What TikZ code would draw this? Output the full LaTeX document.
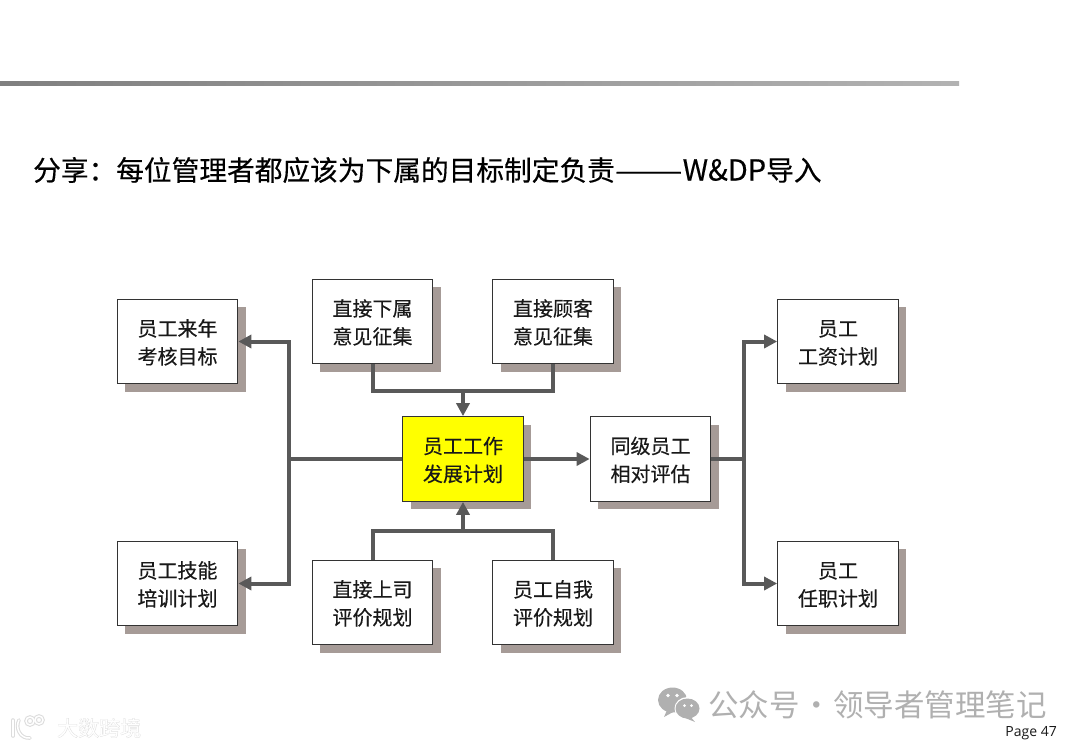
\documentclass[tikz,border=0pt]{standalone}
\usepackage{fontspec}
\setmainfont[FakeBold=0.35]{Noto Sans CJK SC}
\newfontfamily\plaincn{Noto Sans CJK SC}
\newfontfamily\halocn[FakeBold=2.2]{Noto Sans CJK SC}
\newfontfamily\pagefont{Open Sans}
\usetikzlibrary{arrows.meta,shadows,calc}
\definecolor{linegray}{HTML}{595959}
\definecolor{shadowgray}{HTML}{A69B97}
\definecolor{wmgray}{HTML}{B0B0B0}
\definecolor{wmhalo}{HTML}{DCDCDC}
\definecolor{boxyellow}{HTML}{FFFF00}
\newcommand\toppad{\rule{0pt}{18.6pt}}
\tikzset{x=1pt,y=-1pt,
 box/.style={draw=black!80,line width=1.2pt,fill=white,minimum width=120.5pt,minimum height=84.5pt,inner sep=0pt,align=center,font=\fontsize{20}{28}\selectfont,text=black!90,
   general shadow={fill=shadowgray,shadow xshift=8pt,shadow yshift=-8pt}},
 conn/.style={draw=linegray,line width=4pt},
 arr/.style={conn,-{Triangle[length=13pt,width=13pt]}},
 halo/.style={draw=wmhalo,line width=3.6pt,line cap=round},
 logo/.style={draw=white,line width=1.5pt,line cap=round},
}
\begin{document}
\begin{tikzpicture}
\useasboundingbox (0,0) rectangle (1080,748);
\shade[left color=black!50,right color=black!30] (0,81) rectangle (959,85);
\node[anchor=west,inner sep=0pt,font=\fontsize{27.7}{32}\selectfont,text=black] (title) at (33,170) {分享：每位管理者都应该为下属的目标制定负责\scalebox{1.46}[1]{——}{\fontsize{29}{32}\selectfont W\&DP}导入};
\node[box] (a) at (177.5,341.5) {\toppad 员工来年\\考核目标};
\node[box] (b) at (177.5,583.5) {\toppad 员工技能\\培训计划};
\node[box] (c) at (372.5,321.5) {\toppad 直接下属\\意见征集};
\node[box] (d) at (553,321.5) {\toppad 直接顾客\\意见征集};
\node[box] (e) at (372.5,602.5) {\toppad 直接上司\\评价规划};
\node[box] (f) at (553,602.5) {\toppad 员工自我\\评价规划};
\node[box,fill=boxyellow] (g) at (463,459) {\toppad 员工工作\\发展计划};
\node[box] (h) at (650.5,459) {\toppad 同级员工\\相对评估};
\node[box] (i) at (838,341.5) {\toppad 员工\\工资计划};
\node[box] (j) at (838,583.5) {\toppad 员工\\任职计划};
\coordinate (J1) at (463,391);
\coordinate (J2) at (463,531);
\coordinate (JL) at (289,459);
\coordinate (JR) at (744,459);
\draw[conn] (c.south) |- (J1) -| (d.south);
\draw[conn] (e.north) |- (J2) -| (f.north);
\draw[conn] (g.west) -- (JL);
\draw[arr] (JL) |- (a.east);
\draw[arr] (JL) |- (b.east);
\draw[arr] (JR) |- (i.west);
\draw[arr] (JR) |- (j.west);
\draw[conn] (h.east) -- (JR);
\draw[arr] (g.east) -- (h.west);
\draw[arr] (J1) -- (g.north);
\draw[arr] (J2) -- (g.south);
% watermark
\fill[wmgray] (672.5,700) ellipse (14.5 and 12.5);
\fill[wmgray] (667,710) -- (664,717) -- (675,711) -- cycle;
\fill[white] (687.5,708.5) ellipse (13 and 11.5);
\fill[wmgray] (687.5,708.5) ellipse (12 and 10);
\fill[wmgray] (690,716) -- (695,722) -- (684,717.5) -- cycle;
\fill[white] (668,695.5) circle (1.8) (677,695.5) circle (1.8) (684.5,705.5) circle (1.5) (691.5,705.5) circle (1.5);
\node[anchor=west,inner sep=0pt,font=\plaincn\fontsize{30.5}{32}\selectfont,text=wmgray] (wm) at (708,705) {公众号\hspace{1.5pt}·\hspace{1.5pt}领导者管理笔记};
\draw[halo] (13,720) -- (13,736);
\draw[halo] (19,720) .. controls (15,728) and (20,739) .. (30,738);
\draw[halo] (30,721) circle (4);
\draw[halo] (39,720) circle (4);
\draw[logo] (13,720) -- (13,736);
\draw[logo] (19,720) .. controls (15,728) and (20,739) .. (30,738);
\draw[logo] (30,721) circle (4);
\draw[logo] (39,720) circle (4);
\node[anchor=west,inner sep=0pt,font=\halocn\fontsize{21}{24}\selectfont,text=wmhalo] (wmh) at (57,728) {大数跨境};
\node[anchor=west,inner sep=0pt,font=\plaincn\fontsize{21}{24}\selectfont,text=white] (wm2) at (57,728) {大数跨境};
\node[anchor=east,inner sep=0pt,font=\pagefont\fontsize{14}{16}\selectfont,text=black!90] (pg) at (1057,733) {Page 47};
\end{tikzpicture}
\end{document}
